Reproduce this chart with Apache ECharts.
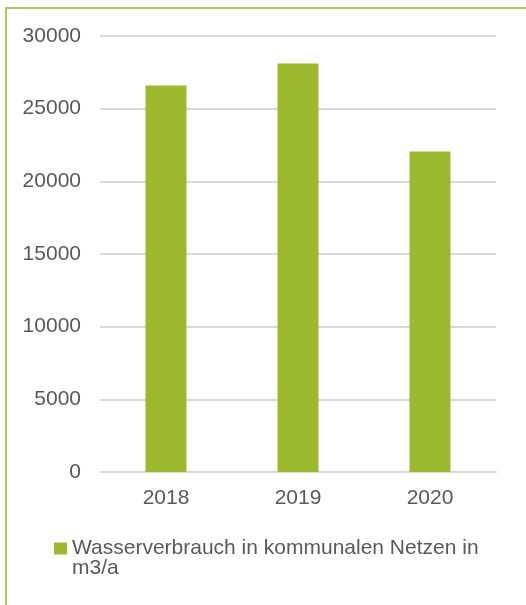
<!DOCTYPE html>
<html>
<head>
<meta charset="utf-8">
<script src="https://cdn.jsdelivr.net/npm/echarts@6/dist/echarts.min.js"></script>
<style>
  html, body { margin: 0; padding: 0; background: #fff; }
  #chart { width: 526px; height: 605px; }
</style>
</head>
<body>
<div id="chart"></div>
<script>
// data
const years = ["2018", "2019", "2020"];
const consumption = [26600, 28100, 22050];
const seriesName = "Wasserverbrauch in kommunalen Netzen in m3/a";
const yTicks = [0, 5000, 10000, 15000, 20000, 25000, 30000];

function chartSetup(container) {
  let myChart = echarts.init(container, null, { renderer: "canvas" }),
    option;
  const font = "Liberation Sans, Arial, sans-serif";
  option = {
    animation: false,
    textStyle: { fontFamily: font },
    grid: {
      left: 100,
      right: 30,
      top: 36,
      bottom: 133,
      containLabel: false
    },
    // frame: only top and left edges show in the picture
    graphic: [
      {
        type: "rect",
        shape: { x: 6, y: 8, width: 700, height: 800 },
        style: { fill: "none", stroke: "#a8cb52", lineWidth: 2 },
        silent: true
      }
    ],
    legend: {
      left: 54,
      top: 518,
      padding: 0,
      itemWidth: 13,
      itemHeight: 12,
      itemGap: 5,
      icon: "rect",
      // wrap like the reference; empty first line keeps marker beside line one
      formatter: function (name) {
        return " \nWasserverbrauch in kommunalen Netzen in\nm3/a";
      },
      textStyle: {
        fontFamily: font,
        fontSize: 21,
        color: "#595959",
        lineHeight: 20
      },
      data: [seriesName]
    },
    xAxis: {
      type: "category",
      data: years,
      axisLine: { lineStyle: { color: "#d9d9d9", width: 2 } },
      axisTick: { show: false },
      axisLabel: {
        fontFamily: font,
        fontSize: 21,
        color: "#595959",
        margin: 16
      }
    },
    yAxis: {
      type: "value",
      min: yTicks[0],
      max: yTicks[yTicks.length - 1],
      interval: yTicks[1] - yTicks[0],
      axisLine: { show: false },
      axisTick: { show: false },
      splitLine: { lineStyle: { color: "#d9d9d9", width: 2 } },
      axisLabel: {
        fontFamily: font,
        fontSize: 21,
        color: "#595959",
        margin: 19,
        formatter: function (v) {
          return String(v);
        }
      }
    },
    series: [
      {
        name: seriesName,
        type: "bar",
        data: consumption,
        barWidth: "31%",
        itemStyle: { color: "#9bb82f" }
      }
    ]
  };
  if (option && typeof option === "object") myChart.setOption(option);
  window.addEventListener("resize", function () {
    myChart.resize();
  });
}

chartSetup(document.getElementById("chart"));
</script>
</body>
</html>
